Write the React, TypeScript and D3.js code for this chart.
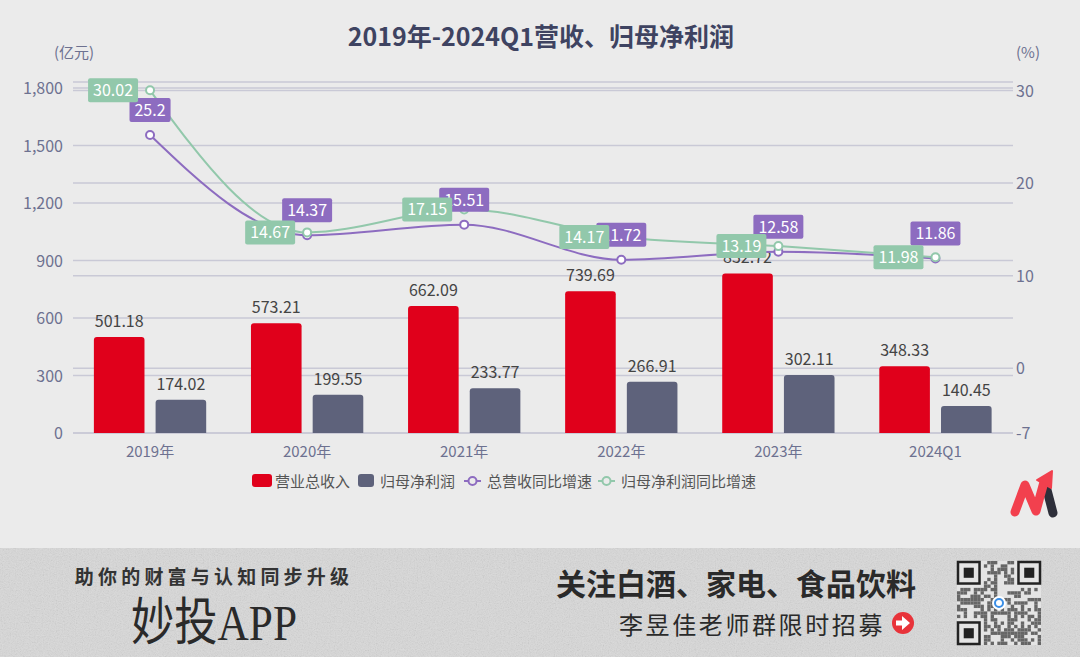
import * as d3 from "d3"

const categories = ["2019年", "2020年", "2021年", "2022年", "2023年", "2024Q1"]
const revenue = [501.18, 573.21, 662.09, 739.69, 832.72, 348.33]
const netProfit = [174.02, 199.55, 233.77, 266.91, 302.11, 140.45]
const revenueGrowth = [25.2, 14.37, 15.51, 11.72, 12.58, 11.86]
const profitGrowth = [30.02, 14.67, 17.15, 14.17, 13.19, 11.98]
const leftTicks = [0, 300, 600, 900, 1200, 1500, 1800]
const rightTicks = [-7, 0, 10, 20, 30]
const seriesNames = ["营业总收入", "归母净利润", "总营收同比增速", "归母净利润同比增速"]

const W = 1080
const H = 657
const FONT = "'Noto Sans CJK SC', 'Noto Sans', sans-serif"
const RED = "#e0001b"
const GRAY = "#5e627b"
const PURPLE = "#8d6cc0"
const GREEN = "#92c8ab"
const AXIS = "#6d7190"
const GRID = "#c9c9d6"

let ctx: CanvasRenderingContext2D | null = null
function textWidth(s: string, size: number) {
  if (!ctx) ctx = document.createElement("canvas").getContext("2d")
  if (!ctx) return s.length * size * 0.55
  ctx.font = `${size}px ${FONT}`
  return ctx.measureText(s).width
}

// deterministic pseudo pattern for the decorative QR block
function qrCells(n: number) {
  const cells: [number, number][] = []
  for (let r = 0; r < n; r++) {
    for (let c = 0; c < n; c++) {
      const inFinder = (r < 8 && c < 8) || (r < 8 && c >= n - 8) || (r >= n - 8 && c < 8)
      if (inFinder) continue
      const h = Math.sin(r * 12.9898 + c * 78.233) * 43758.5453
      if (h - Math.floor(h) > 0.5) cells.push([r, c])
    }
  }
  return cells
}

export default function App() {
  const x0 = d3.scaleBand<string>().domain(categories).range([71.5, 1014]).paddingInner(0.285).paddingOuter(0.1425)
  const xc = (i: number) => (x0(categories[i]) ?? 0) + x0.bandwidth() / 2
  const x1 = d3.scaleBand<number>().domain([0, 1]).range([0, x0.bandwidth()]).paddingInner(0.18)
  const yL = d3.scaleLinear().domain([0, 1800]).range([433, 88])
  const yR = d3.scaleLinear().domain([-7, 30]).range([433, 90.5])

  const line = d3.line<number>().x((_, i) => xc(i)).y(d => yR(d)).curve(d3.curveMonotoneX)

  const barPath = (x: number, y: number, w: number, h: number, r: number) =>
    `M${x},${y + h}V${y + r}Q${x},${y} ${x + r},${y}H${x + w - r}Q${x + w},${y} ${x + w},${y + r}V${y + h}Z`

  const qr = qrCells(25)
  const qrX = 957
  const qrY = 561
  const cell = 84 / 25

  const legendItems = [
    { x: 252, kind: "bar", color: RED },
    { x: 358, kind: "bar", color: GRAY },
    { x: 464, kind: "line", color: PURPLE },
    { x: 598, kind: "line", color: GREEN },
  ]

  return (
    <div style={{ position: "fixed", left: 0, top: 0 }}>
      <svg width={W} height={H} style={{ display: "block", fontFamily: FONT }}>
        <defs>
          <filter id="grain" x="0" y="0" width="100%" height="100%">
            <feTurbulence type="fractalNoise" baseFrequency="0.85" numOctaves="2" seed="3" stitchTiles="stitch" />
            <feColorMatrix type="saturate" values="0" />
          </filter>
        </defs>
        <rect width={W} height={H} fill="#ebebeb" />

        {/* title */}
        <text x={541} y={46} textAnchor="middle" fontSize={25} fontWeight="bold" fill="#3e4361">
          2019年-2024Q1营收、归母净利润
        </text>
        <text x={74} y={58} textAnchor="middle" fontSize={15} fill={AXIS}>(亿元)</text>
        <text x={1028} y={58} textAnchor="middle" fontSize={15} fill={AXIS}>(%)</text>

        {/* grid */}
        <line x1={73} x2={1013} y1={82} y2={82} stroke={GRID} strokeWidth={1.5} />
        {leftTicks.map(t => (
          <line key={"gl" + t} x1={73} x2={1013} y1={yL(t)} y2={yL(t)} stroke={GRID} strokeWidth={1.5} />
        ))}
        {rightTicks.map(t => (
          <line key={"gr" + t} x1={73} x2={1013} y1={yR(t)} y2={yR(t)} stroke={GRID} strokeWidth={1.5} />
        ))}
        {leftTicks.map(t => (
          <text key={"tl" + t} x={63} y={yL(t) + 6} textAnchor="end" fontSize={16} fill={AXIS}>
            {d3.format(",")(t)}
          </text>
        ))}
        {rightTicks.map(t => (
          <text key={"tr" + t} x={1016} y={yR(t) + 6} fontSize={16} fill={AXIS}>{t}</text>
        ))}
        {categories.map((c, i) => (
          <text key={"c" + c} x={xc(i)} y={457} textAnchor="middle" fontSize={15} fill={AXIS}>{c}</text>
        ))}

        {/* bars */}
        {[revenue, netProfit].map((vals, s) =>
          vals.map((v, i) => {
            const bx = (x0(categories[i]) ?? 0) + (x1(s) ?? 0)
            const by = yL(v)
            return (
              <g key={`b${s}-${i}`}>
                <path d={barPath(bx, by, x1.bandwidth(), yL(0) - by, 3)} fill={s === 0 ? RED : GRAY} />
                <text x={bx + x1.bandwidth() / 2} y={by - 10} textAnchor="middle" fontSize={16} fill="#444">
                  {v}
                </text>
              </g>
            )
          })
        )}

        {/* lines */}
        <path d={line(revenueGrowth) ?? ""} fill="none" stroke={PURPLE} strokeWidth={2} />
        <path d={line(profitGrowth) ?? ""} fill="none" stroke={GREEN} strokeWidth={2} />
        {revenueGrowth.map((v, i) => (
          <circle key={"pp" + i} cx={xc(i)} cy={yR(v)} r={4} fill="#fff" stroke={PURPLE} strokeWidth={2} />
        ))}
        {profitGrowth.map((v, i) => (
          <circle key={"pg" + i} cx={xc(i)} cy={yR(v)} r={4} fill="#fff" stroke={GREEN} strokeWidth={2} />
        ))}

        {/* purple labels (top) */}
        {revenueGrowth.map((v, i) => {
          const w = textWidth(String(v), 16) + 10
          const cx = xc(i)
          const by = yR(v) - 13 - 24
          return (
            <g key={"lp" + i}>
              <rect x={cx - w / 2} y={by} width={w} height={24} rx={2} fill={PURPLE} />
              <text x={cx} y={by + 18} textAnchor="middle" fontSize={16} fill="#fff">{v}</text>
            </g>
          )
        })}
        {/* green labels (left) */}
        {profitGrowth.map((v, i) => {
          const w = textWidth(String(v), 16) + 10
          const right = xc(i) - 12
          const cy = yR(v)
          return (
            <g key={"lg" + i}>
              <rect x={right - w} y={cy - 12} width={w} height={24} rx={2} fill={GREEN} />
              <text x={right - w / 2} y={cy + 6} textAnchor="middle" fontSize={16} fill="#fff">{v}</text>
            </g>
          )
        })}

        {/* legend */}
        {legendItems.map((it, i) => (
          <g key={"lg" + i}>
            {it.kind === "bar" ? (
              <rect x={it.x} y={474} width={i === 0 ? 20 : 16} height={13} rx={3} fill={it.color} />
            ) : (
              <g>
                <line x1={it.x} x2={it.x + 17} y1={481} y2={481} stroke={it.color} strokeWidth={2} />
                <circle cx={it.x + 8.5} cy={481} r={4} fill="#ebebeb" stroke={it.color} strokeWidth={2} />
              </g>
            )}
            <text x={it.x + (it.kind === "bar" ? (i === 0 ? 23 : 22) : 23)} y={486.5} fontSize={15} fill="#555">
              {seriesNames[i]}
            </text>
          </g>
        ))}

        {/* logo */}
        <g strokeLinecap="round" strokeLinejoin="round" fill="none">
          <path d="M1047,490 L1053,513" stroke="#2e2f3a" strokeWidth={9} />
          <path d="M1015,512 L1025,485 L1036,511 L1044,482" stroke="#f2404e" strokeWidth={9} />
          <path d="M1037,480 L1052,471 L1051,488 Z" fill="#f2404e" stroke="#f2404e" strokeWidth={2} />
        </g>

        {/* footer banner */}
        <rect x={0} y={548} width={W} height={H - 548} fill="#d9d9d9" />
        <rect x={0} y={548} width={W} height={H - 548} filter="url(#grain)" opacity={0.3} />
        <text x={214} y={584} textAnchor="middle" fontSize={19} fontWeight="bold" fill="#333" letterSpacing={4.2}>
          助你的财富与认知同步升级
        </text>
        <text
          x={214}
          y={0}
          textAnchor="middle"
          fontSize={34}
          fill="#2a2a2a"
          fontFamily="'Liberation Serif', 'Noto Sans CJK SC', serif"
          transform="translate(0,640) scale(1,1.5)"
          textLength={166}
          lengthAdjust="spacingAndGlyphs"
        >
          妙投APP
        </text>
        <text x={736} y={595} textAnchor="middle" fontSize={30} fontWeight="bold" fill="#2a2a2a">
          关注白酒、家电、食品饮料
        </text>
        <text x={752} y={634} textAnchor="middle" fontSize={24} fill="#2a2a2a" letterSpacing={2.6}>
          李昱佳老师群限时招募
        </text>
        <circle cx={903} cy={623} r={11} fill="#e8333a" />
        <path d="M896,620.5 H902 V616 L910,623 L902,630 V625.5 H896 Z" fill="#fff" />

        {/* QR-like block */}
        <rect x={qrX} y={qrY} width={84} height={84} fill="#e4e4e4" />
        {qr.map(([r, c], i) => (
          <rect key={"q" + i} x={qrX + c * cell} y={qrY + r * cell} width={cell} height={cell} fill="#666" />
        ))}
        {[[0, 0], [0, 18], [18, 0]].map(([r, c], i) => (
          <g key={"f" + i}>
            <rect x={qrX + c * cell + 1} y={qrY + r * cell + 1} width={cell * 7 - 2} height={cell * 7 - 2} fill="none" stroke="#222" strokeWidth={2.5} />
            <rect x={qrX + c * cell + cell * 2} y={qrY + r * cell + cell * 2} width={cell * 3} height={cell * 3} fill="#222" />
          </g>
        ))}
        <circle cx={qrX + 42} cy={qrY + 42} r={7} fill="#fff" />
        <circle cx={qrX + 42} cy={qrY + 42} r={4} fill="none" stroke="#3a8ee6" strokeWidth={2} />
      </svg>
    </div>
  )
}
